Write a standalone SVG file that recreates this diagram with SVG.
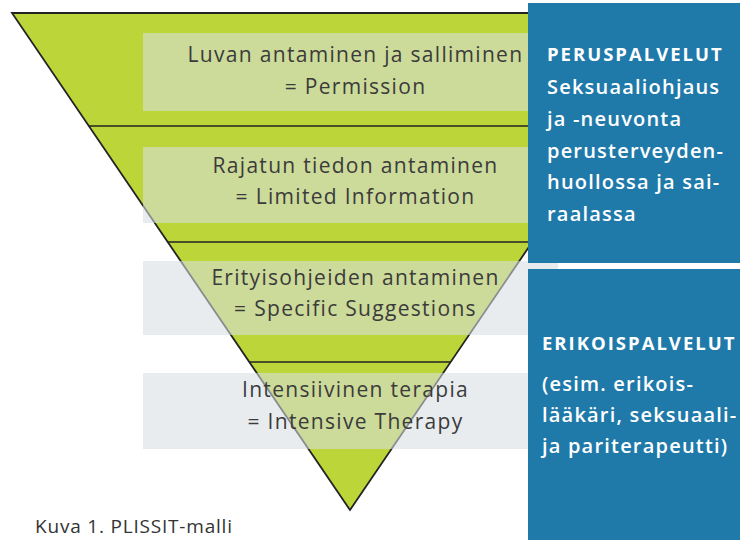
<svg xmlns="http://www.w3.org/2000/svg" width="740" height="540" viewBox="0 0 740 540">
  <style>
    .funnel { fill: #bcd63a; stroke: #232323; stroke-width: 1.8; stroke-linejoin: miter; }
    .divider { stroke: #232323; stroke-width: 1.6; fill: none; }
    .band { fill: #d8dde3; fill-opacity: 0.57; }
    .lvl { font-family: "Open Sans", "Liberation Sans", sans-serif; font-size: 21px; letter-spacing: 1.3px; fill: #3b3b3b; text-anchor: middle; }
    .panel { fill: #1f7aaa; }
    .ptitle { font-family: "Open Sans", "Liberation Sans", sans-serif; font-size: 18.5px; font-weight: 700; letter-spacing: 2px; fill: #ffffff; }
    .ptext { font-family: "Open Sans", "Liberation Sans", sans-serif; font-size: 20px; font-weight: 600; letter-spacing: 1.2px; fill: #ffffff; }
    .caption { font-family: "Open Sans", "Liberation Sans", sans-serif; font-size: 19px; letter-spacing: 0.8px; fill: #333333; }
  </style>

  <rect width="740" height="540" fill="#ffffff"/>

  <!-- inverted PLISSIT funnel -->
  <g id="funnel">
    <polygon class="funnel" points="12,13 688,13 350,510"/>
  </g>

  <!-- level dividers -->
  <g id="connectors">
    <line class="divider" x1="88.8" y1="126" x2="611.2" y2="126"/>
    <line class="divider" x1="167.7" y1="242" x2="532.3" y2="242"/>
    <line class="divider" x1="249.4" y1="362" x2="450.6" y2="362"/>
  </g>

  <g id="level-permission">
    <rect class="band" x="143" y="33" width="415" height="78"/>
    <text class="lvl" x="355.5" y="62">Luvan antaminen ja salliminen</text>
    <text class="lvl" x="355.5" y="94">= Permission</text>
  </g>

  <g id="level-limited-information">
    <rect class="band" x="143" y="147" width="415" height="76"/>
    <text class="lvl" x="355.5" y="173">Rajatun tiedon antaminen</text>
    <text class="lvl" x="355.5" y="204">= Limited Information</text>
  </g>

  <g id="level-specific-suggestions">
    <rect class="band" x="143" y="261" width="415" height="74"/>
    <text class="lvl" x="355.5" y="285">Erityisohjeiden antaminen</text>
    <text class="lvl" x="355.5" y="316">= Specific Suggestions</text>
  </g>

  <g id="level-intensive-therapy">
    <rect class="band" x="143" y="373" width="415" height="76"/>
    <text class="lvl" x="355.5" y="397">Intensiivinen terapia</text>
    <text class="lvl" x="355.5" y="429">= Intensive Therapy</text>
  </g>

  <g id="panel-peruspalvelut">
    <rect class="panel" x="528" y="3" width="212" height="260"/>
    <text class="ptitle" x="547" y="61">PERUSPALVELUT</text>
    <text class="ptext" x="547" y="94">Seksuaaliohjaus</text>
    <text class="ptext" x="547" y="125.5">ja -neuvonta</text>
    <text class="ptext" x="547" y="157.5">perusterveyden-</text>
    <text class="ptext" x="547" y="189">huollossa ja sai-</text>
    <text class="ptext" x="547" y="221">raalassa</text>
  </g>

  <g id="panel-erikoispalvelut">
    <rect class="panel" x="528" y="269" width="212" height="271"/>
    <text class="ptitle" x="542" y="350">ERIKOISPALVELUT</text>
    <text class="ptext" x="542" y="391">(esim. erikois-</text>
    <text class="ptext" x="542" y="422">lääkäri, seksuaali-</text>
    <text class="ptext" x="542" y="453">ja pariterapeutti)</text>
  </g>

  <text class="caption" x="35" y="533">Kuva 1. PLISSIT-malli</text>
</svg>
